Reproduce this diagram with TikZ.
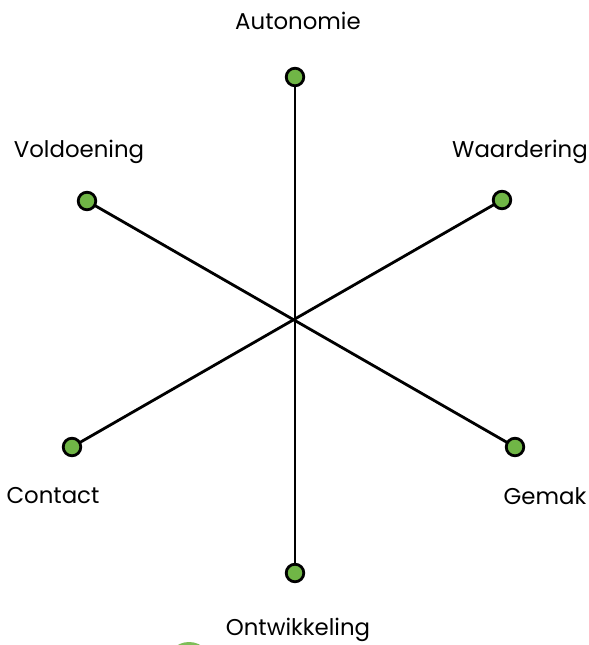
\documentclass[tikz,border=0pt]{standalone}
\usepackage{fontspec}
\setmainfont{Poppins}
\definecolor{dotgreen}{RGB}{112,182,70}
\tikzset{
	dot/.style={circle, draw=black, line width=2.4pt, fill=dotgreen, minimum size=15pt, inner sep=0pt},
	spoke/.style={line width=2.4pt},
	lbl/.style={font=\fontsize{19.5}{23}\selectfont, inner sep=0pt}
}
\begin{document}
\begin{tikzpicture}[x=0.03cm, y=-0.03cm]
		\useasboundingbox (0,0) rectangle (588,645);
		\begin{scope}
			\clip (0,0) rectangle (588,645);
			\fill[dotgreen!90] (189,665) circle (23);
		\end{scope}

		\coordinate (mid) at (295,320);

		\node[lbl] (autonomie) at (298,21) {Autonomie};
		\node[lbl] (voldoening) at (79,152) {Voldoening};
		\node[lbl] (waardering) at (520,152) {Waardering};
		\node[lbl] (contact) at (53,496) {Contact};
		\node[lbl] (gemak) at (545,496) {Gemak};
		\node[lbl] (ontwikkeling) at (298,630) {Ontwikkeling};

		\draw[spoke] (295,77) -- (295,573);
		\draw[spoke] (87,201) -- (515,447);
		\draw[spoke] (502,200) -- (72,447);

		\node[dot] (top) at (295,77) {};
		\node[dot] (ul) at (87,201) {};
		\node[dot] (ur) at (502,200) {};
		\node[dot] (ll) at (72,447) {};
		\node[dot] (lr) at (515,447) {};
		\node[dot] (bot) at (295,573) {};
	\end{tikzpicture}
\end{document}
